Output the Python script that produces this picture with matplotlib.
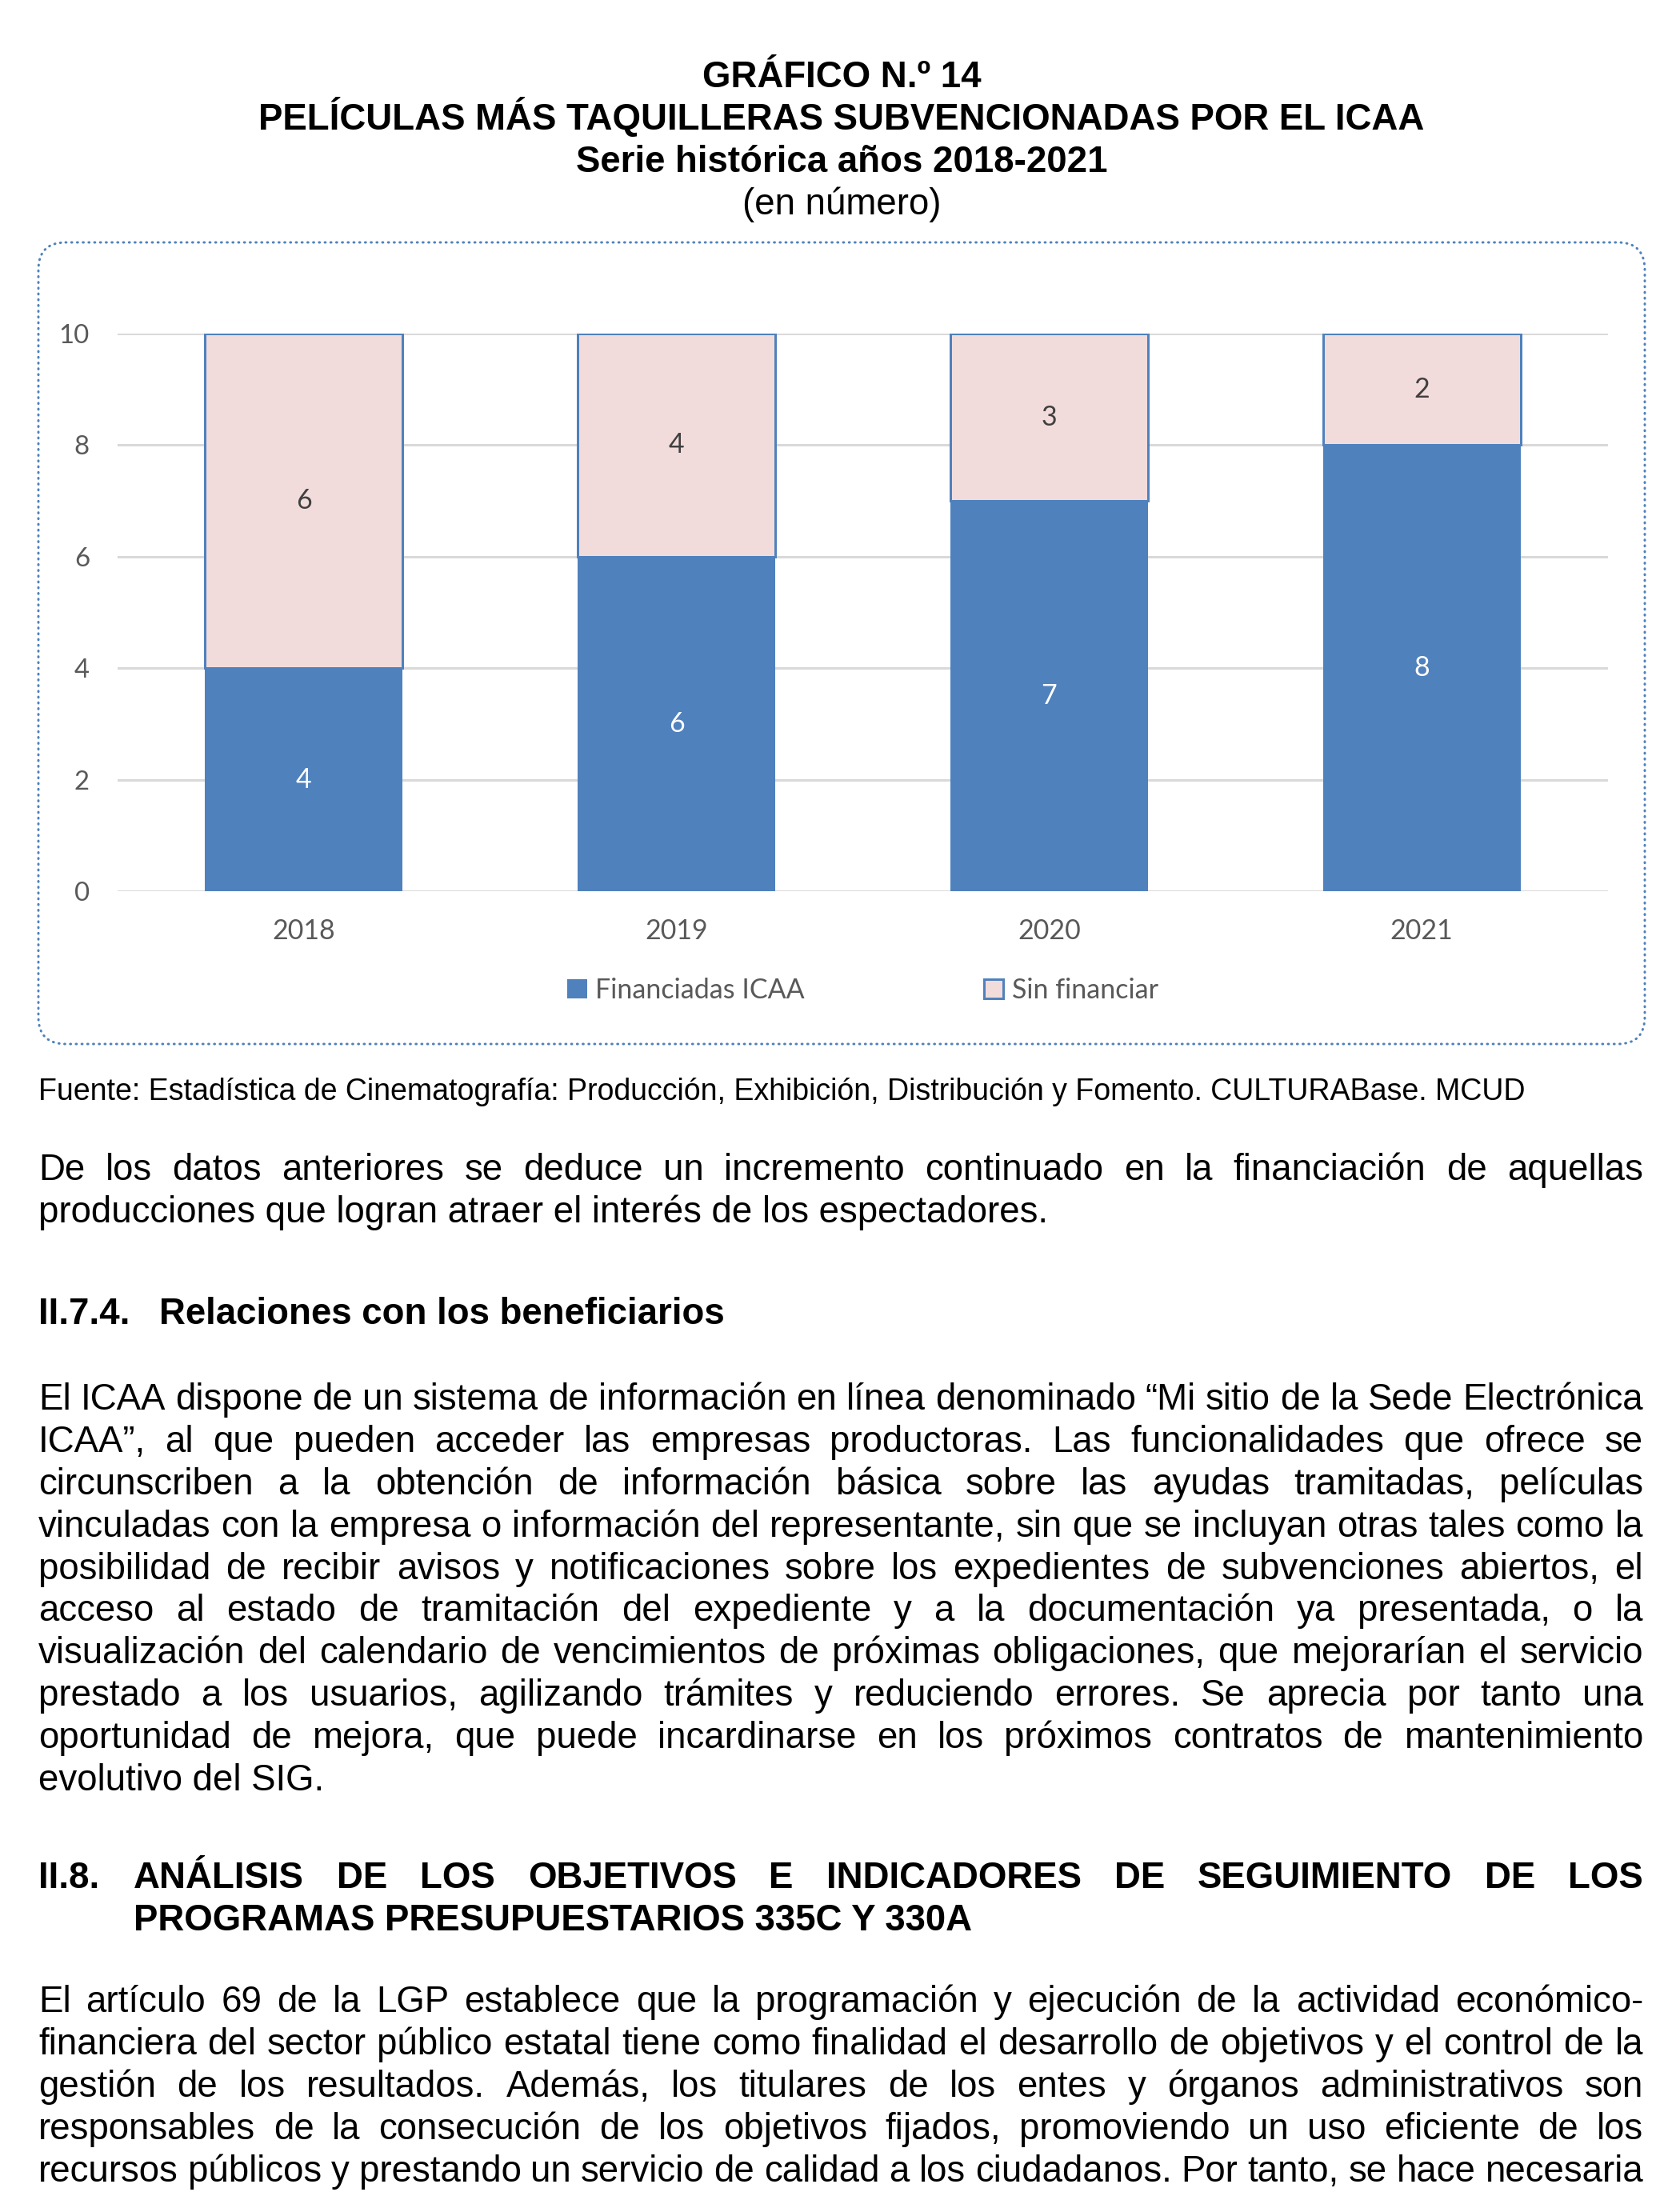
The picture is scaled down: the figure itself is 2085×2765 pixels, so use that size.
import matplotlib
matplotlib.use("Agg")
import matplotlib.pyplot as plt
from matplotlib.font_manager import FontProperties
from matplotlib.patches import FancyBboxPatch
import numpy as np

W, H, DPI = 2085, 2765, 100

years = ["2018", "2019", "2020", "2021"]
financiadas = [4, 6, 7, 8]
sin_financiar = [6, 4, 3, 2]
y_ticks = [0, 2, 4, 6, 8, 10]
series_names = ["Financiadas ICAA", "Sin financiar"]

title_lines = [
    "GRÁFICO N.º 14",
    "PELÍCULAS MÁS TAQUILLERAS SUBVENCIONADAS POR EL ICAA",
    "Serie histórica años 2018-2021",
]
subtitle = "(en número)"
fuente = ("Fuente: Estadística de Cinematografía: Producción, Exhibición, "
          "Distribución y Fomento. CULTURABase. MCUD")

parrafo_1 = [
    "De los datos anteriores se deduce un incremento continuado en la financiación de aquellas",
    "producciones que logran atraer el interés de los espectadores.",
]
parrafo_2 = [
    "El ICAA dispone de un sistema de información en línea denominado “Mi sitio de la Sede Electrónica",
    "ICAA”, al que pueden acceder las empresas productoras. Las funcionalidades que ofrece se",
    "circunscriben a la obtención de información básica sobre las ayudas tramitadas, películas",
    "vinculadas con la empresa o información del representante, sin que se incluyan otras tales como la",
    "posibilidad de recibir avisos y notificaciones sobre los expedientes de subvenciones abiertos, el",
    "acceso al estado de tramitación del expediente y a la documentación ya presentada, o la",
    "visualización del calendario de vencimientos de próximas obligaciones, que mejorarían el servicio",
    "prestado a los usuarios, agilizando trámites y reduciendo errores. Se aprecia por tanto una",
    "oportunidad de mejora, que puede incardinarse en los próximos contratos de mantenimiento",
    "evolutivo del SIG.",
]
encabezado_2 = [
    "ANÁLISIS DE LOS OBJETIVOS E INDICADORES DE SEGUIMIENTO DE LOS",
    "PROGRAMAS PRESUPUESTARIOS 335C Y 330A",
]
parrafo_3 = [
    "El artículo 69 de la LGP establece que la programación y ejecución de la actividad económico-",
    "financiera del sector público estatal tiene como finalidad el desarrollo de objetivos y el control de la",
    "gestión de los resultados. Además, los titulares de los entes y órganos administrativos son",
    "responsables de la consecución de los objetivos fijados, promoviendo un uso eficiente de los",
    "recursos públicos y prestando un servicio de calidad a los ciudadanos. Por tanto, se hace necesaria",
]

BLUE = "#4F81BD"
PINK = "#F2DCDB"
GREY_TXT = "#595959"
CHART_FONT = ["Lato", "DejaVu Sans"]
BODY = 45.7
LINE = 52.9
LEFT, RIGHT = 48, 2054

plt.rcParams["font.family"] = ["Liberation Sans", "DejaVu Sans"]


def pt(px):
    return px * 72 / DPI


fig = plt.figure(figsize=(W / DPI, H / DPI), dpi=DPI)
renderer = fig.canvas.get_renderer()


def put(x, y, s, size=BODY, weight="normal", ha="left"):
    fig.text(x / W, 1 - y / H, s, fontsize=pt(size), weight=weight,
             ha=ha, va="baseline", color="black")


def justify(x0, x1, y, s, size=BODY, weight="normal"):
    words = s.split()
    prop = FontProperties(family="Liberation Sans", size=pt(size), weight=weight)
    widths = [renderer.get_text_width_height_descent(w, prop, ismath=False)[0]
              for w in words]
    gap = (x1 - x0 - sum(widths)) / (len(words) - 1)
    x = x0
    for w, wd in zip(words, widths):
        put(x, y, w, size, weight)
        x += wd + gap


# background layer in pixel units for the chart frame
bg = fig.add_axes([0, 0, 1, 1], zorder=0)
bg.set_xlim(0, W)
bg.set_ylim(H, 0)
bg.axis("off")
frame = FancyBboxPatch((48, 303), 2056 - 48, 1305 - 303,
                       boxstyle="round,pad=0,rounding_size=34",
                       facecolor="none", edgecolor=BLUE, linewidth=pt(3),
                       linestyle=(0, (0.3, 2.1)), capstyle="round")
bg.add_patch(frame)

# titles
for i, t in enumerate(title_lines):
    put(1052, 109 + 53 * i, t, weight="bold", ha="center")
put(1052, 268, subtitle, ha="center")

# chart
ax = fig.add_axes([147 / W, 1 - 1114 / H, (2010 - 147) / W, (1114 - 417) / H], zorder=1)
ax.patch.set_alpha(0)
x = np.arange(len(years))
b1 = ax.bar(x, financiadas, width=0.53, color=BLUE, label=series_names[0], zorder=2)
b2 = ax.bar(x, sin_financiar, width=0.53, bottom=financiadas, color=PINK,
            edgecolor=BLUE, linewidth=pt(3), label=series_names[1], zorder=2)
ax.bar_label(b1, label_type="center", color="white", fontsize=pt(34), family=CHART_FONT)
ax.bar_label(b2, label_type="center", color="#404040", fontsize=pt(34), family=CHART_FONT)
ax.set_xlim(-0.5, 3.5)
ax.set_ylim(0, 10)
ax.set_yticks(y_ticks)
ax.set_xticks(x, years)
ax.yaxis.grid(True, color="#D9D9D9", linewidth=pt(3))
ax.set_axisbelow(True)
for s in ax.spines.values():
    s.set_visible(False)
ax.tick_params(axis="y", length=0, pad=pt(35), labelsize=pt(33), labelcolor=GREY_TXT)
ax.tick_params(axis="x", length=0, pad=pt(34), labelsize=pt(34), labelcolor=GREY_TXT)
for lab in ax.get_xticklabels() + ax.get_yticklabels():
    lab.set_family(CHART_FONT)
leg = ax.legend(loc="center", bbox_to_anchor=(0.5, -0.178), ncol=2, frameon=False,
                handlelength=0.72, handleheight=0.72, handletextpad=0.3,
                columnspacing=6.6, prop=FontProperties(family=CHART_FONT, size=pt(34)))
for t in leg.get_texts():
    t.set_color(GREY_TXT)

# source
put(LEFT, 1375, fuente, size=37.5)

# paragraph 1
justify(LEFT, RIGHT, 1475, parrafo_1[0])
put(LEFT, 1475 + LINE, parrafo_1[1])

# heading II.7.4
put(LEFT, 1655, "II.7.4.", weight="bold")
put(199, 1655, "Relaciones con los beneficiarios", weight="bold")

# paragraph 2
for i, line in enumerate(parrafo_2):
    y = 1762 + LINE * i
    if i < len(parrafo_2) - 1:
        justify(LEFT, RIGHT, y, line)
    else:
        put(LEFT, y, line)

# heading II.8
put(LEFT, 2360, "II.8.", weight="bold")
justify(167, RIGHT, 2360, encabezado_2[0], weight="bold")
put(167, 2360 + LINE, encabezado_2[1], weight="bold")

# paragraph 3
for i, line in enumerate(parrafo_3):
    justify(LEFT, RIGHT, 2515 + LINE * i, line)

fig.savefig("out.png", dpi=DPI, facecolor="white")
